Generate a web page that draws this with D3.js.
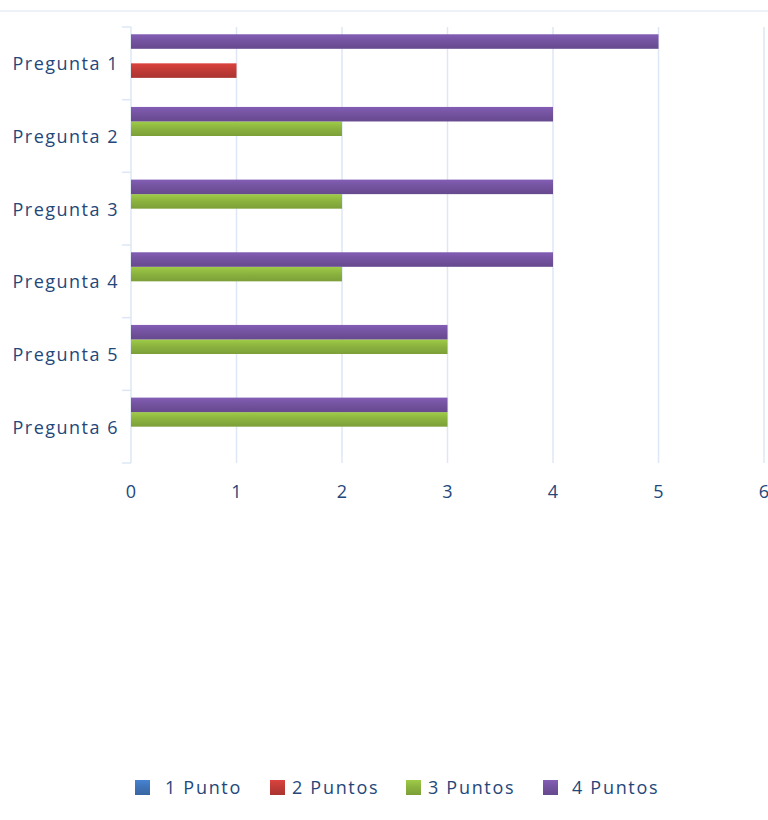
<!DOCTYPE html>
<html><head><meta charset="utf-8">
<script src="https://cdn.jsdelivr.net/npm/d3@7"></script>
<style>body{margin:0;background:#fff}svg{display:block}</style>
</head><body>
<svg id="c" width="768" height="820"></svg>
<script>
const categories = ["Pregunta 1","Pregunta 2","Pregunta 3","Pregunta 4","Pregunta 5","Pregunta 6"];
const seriesNames = ["1 Punto","2 Puntos","3 Puntos","4 Puntos"];
const punto1 = [0,0,0,0,0,0];
const puntos2 = [1,0,0,0,0,0];
const puntos3 = [0,2,2,2,3,3];
const puntos4 = [5,4,4,4,3,3];
const xTicks = [0,1,2,3,4,5,6];
const colors = ["#3f74b9","#c23b37","#8cb43f","#7453a0"];
const series = [punto1,puntos2,puntos3,puntos4];

const svg = d3.select("#c");
const textColor = "#24477a";
const gridColor = "#dde7f5";
const font = "Open Sans";

svg.append("line").attr("x1",0).attr("x2",768).attr("y1",11).attr("y2",11)
  .attr("stroke","#edf2fa").attr("stroke-width",2);

const x = d3.scaleLinear().domain([0,6]).range([131,764]);
const y = d3.scaleBand().domain(categories).range([27,463]).paddingInner(0).paddingOuter(0);
const inner = d3.scaleBand().domain([3,2,1,0]).range([0,y.bandwidth()]).paddingInner(0).paddingOuter(0.5);

const defs = svg.append("defs");
colors.forEach((c,i)=>{
  const g = defs.append("linearGradient").attr("id","g"+i).attr("x1",0).attr("x2",0).attr("y1",0).attr("y2",1);
  g.append("stop").attr("offset","0%").attr("stop-color",d3.color(c).brighter(0.35));
  g.append("stop").attr("offset","45%").attr("stop-color",c);
  g.append("stop").attr("offset","100%").attr("stop-color",d3.color(c).darker(0.35));
});

// gridlines
svg.append("g").selectAll("line").data(xTicks).join("line")
  .attr("x1",d=>x(d)).attr("x2",d=>x(d)).attr("y1",27).attr("y2",463)
  .attr("stroke",gridColor).attr("stroke-width",1.5);

// left axis ticks
const bounds = categories.map(c=>y(c)).concat([y.range()[1]]);
svg.append("g").selectAll("line").data(bounds).join("line")
  .attr("x1",122).attr("x2",131).attr("y1",d=>d).attr("y2",d=>d)
  .attr("stroke",gridColor).attr("stroke-width",1.5);

// bars
const rows = [];
categories.forEach((c,ci)=>series.forEach((s,si)=>rows.push({c,si,v:s[ci]})));
svg.append("g").selectAll("rect").data(rows.filter(d=>d.v>0)).join("rect")
  .attr("x",x(0)).attr("y",d=>y(d.c)+inner(d.si))
  .attr("width",d=>x(d.v)-x(0)).attr("height",inner.bandwidth())
  .attr("fill",d=>"url(#g"+d.si+")");

// category labels
svg.append("g").selectAll("text").data(categories).join("text")
  .attr("x",119).attr("y",d=>y(d)+y.bandwidth()/2+7)
  .attr("text-anchor","end").attr("fill",textColor)
  .attr("font-family",font).attr("font-size",18).attr("letter-spacing",1.5)
  .text(d=>d);

// x tick labels
svg.append("g").selectAll("text").data(xTicks).join("text")
  .attr("x",d=>x(d)).attr("y",498).attr("text-anchor","middle").attr("fill",textColor)
  .attr("font-family",font).attr("font-size",18).text(d=>d);

// legend
const legX = [135,270,406,543];
const legend = svg.append("g").selectAll("g").data(seriesNames).join("g")
  .attr("transform",(d,i)=>`translate(${legX[i]},780)`);
legend.append("rect").attr("width",15).attr("height",15).attr("fill",(d,i)=>"url(#g"+i+")");
legend.append("text").attr("x",(d,i)=>[30,22,22,29][i]).attr("y",14)
  .attr("fill",textColor).attr("font-family",font).attr("font-size",18).attr("letter-spacing",1.7)
  .text(d=>d);
</script>
</body></html>
